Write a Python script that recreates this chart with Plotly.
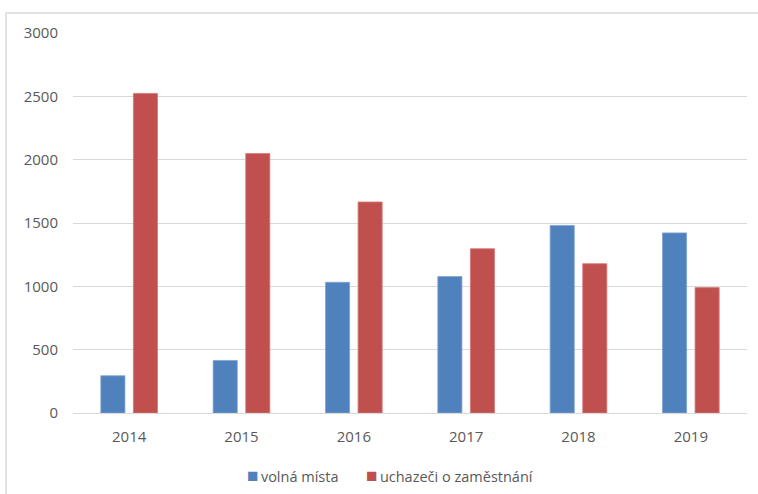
import plotly.graph_objects as go

years = ["2014", "2015", "2016", "2017", "2018", "2019"]
volna_mista = [294, 415, 1032, 1077, 1481, 1422]
uchazeci = [2523, 2048, 1666, 1297, 1179, 990]
y_ticks = [0, 500, 1000, 1500, 2000, 2500, 3000]

series = [
    ("volná místa", volna_mista, "#4F81BD", "#7FA3D1"),
    ("uchazeči o zaměstnání", uchazeci, "#C0504D", "#D47A78"),
]

font_family = "Open Sans, Liberation Sans, sans-serif"
text_grey = "#595959"

fig = go.Figure()
for name, values, color, edge in series:
    fig.add_trace(go.Bar(
        x=years, y=values, name=name,
        marker=dict(color=color, line=dict(color=edge, width=0.8)),
    ))

# legend row below the axis: coloured square followed by the series name
legend_x = [0.255, 0.432]
annotations = []
for (name, _, color, _), lx in zip(series, legend_x):
    annotations.append(dict(
        xref="paper", yref="paper", x=lx, y=-0.163, xanchor="left", yanchor="middle",
        showarrow=False,
        text=f"<span style='color:{color};font-size:19px'>■</span>\u2009{name}",
        font=dict(size=14.5, color=text_grey, family=font_family),
    ))

fig.update_layout(
    width=758, height=494,
    margin=dict(l=73, r=11, t=33, b=81, autoexpand=False),
    paper_bgcolor="white", plot_bgcolor="white",
    barmode="group", bargap=0.42, bargroupgap=0.26,
    font=dict(family=font_family, size=15, color=text_grey),
    showlegend=False,
    annotations=annotations,
    xaxis=dict(showgrid=False, showline=True, linecolor="#d9d9d9", linewidth=1,
               ticks="", ticklabelstandoff=10, tickfont=dict(size=15, color=text_grey)),
    yaxis=dict(range=[0, 3000], tickvals=y_ticks, showgrid=True, gridcolor="#d9d9d9",
               gridwidth=1, zeroline=False, showline=False, ticks="",
               ticklabelstandoff=14, tickfont=dict(size=15, color=text_grey)),
    shapes=[dict(type="rect", xref="paper", yref="paper",
                 x0=-0.0994, x1=1.2, y0=-0.4, y1=1.0526,
                 line=dict(color="#d9d9d9", width=1.5), fillcolor="rgba(0,0,0,0)",
                 layer="below")],
)

fig.write_html("out.html")
